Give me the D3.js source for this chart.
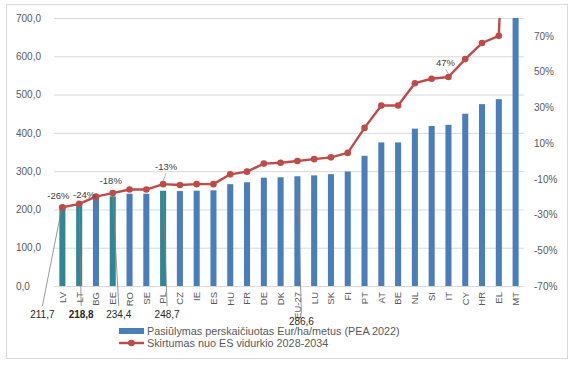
<!DOCTYPE html>
<html>
<head>
<meta charset="utf-8">
<script src="https://cdn.jsdelivr.net/npm/d3@7"></script>
<style>
  html, body { margin: 0; padding: 0; background: #fff; }
  svg { display: block; }
  text { font-family: "Liberation Sans", Arial, sans-serif; }
</style>
</head>
<body>
<svg id="chart" width="574" height="365"></svg>
<script>
// ---- Data ----
const categories = ["LV","LT","BG","EE","RO","SE","PL","CZ","IE","ES","HU","FR","DE","DK","EU-27","LU","SK","FI","PT","AT","BE","NL","SI","IT","CY","HR","EL","MT"];
const paymentValues = [211.7,218.8,230,234.4,241,241,248.7,248,249,250,266,271,283,284,286.6,289,292,299,340,375,375,411,418,421,450,475,488,1150];
const diffPercent = [-26,-24,-20,-18,-16,-16,-13,-13.5,-13,-13,-7.5,-6,-1.5,-1,0,1,2,4.5,18.5,31,31,43.5,46,47,57,66,70,300];
const highlighted = ["LV","LT","EE","PL"];
const leftTicks = [0,100,200,300,400,500,600,700];
const rightTicks = [-70,-50,-30,-10,10,30,50,70];
const seriesNames = ["Pasiūlymas perskaičiuotas Eur/ha/metus (PEA 2022)", "Skirtumas nuo ES vidurkio 2028-2034"];
// data labels
const pctLabels = [
  {cat:"LV", text:"-26%", dx:-4, dy:-12},
  {cat:"LT", text:"-24%", dx:5, dy:-9},
  {cat:"EE", text:"-18%", dx:-2, dy:-12},
  {cat:"PL", text:"-13%", dx:3, dy:-17, leader:true},
  {cat:"IT", text:"47%", dx:-3, dy:-14, leader:true}
];
const barLabels = [
  {cat:"LV", text:"211,7", dx:-20, below:28, bold:false},
  {cat:"LT", text:"218,8", dx:2, below:28, bold:true},
  {cat:"EE", text:"234,4", dx:6, below:28, bold:false},
  {cat:"PL", text:"248,7", dx:4, below:28, bold:false},
  {cat:"EU-27", text:"286,6", dx:4, below:35.5, bold:false}
];

// ---- Layout ----
const svg = d3.select("#chart");
const plot = {left:54, right:524, top:18, bottom:286};
const blue = "#4A7EBB", teal = "#2F8795", red = "#BE4B48";
const grid = "#D9D9D9", txt = "#595959";

// chart border
svg.append("rect").attr("x",6.5).attr("y",4.5).attr("width",561).attr("height",354)
  .attr("fill","#fff").attr("stroke","#D9D9D9").attr("stroke-width",1);

const x = d3.scaleBand().domain(categories).range([plot.left, plot.right])
  .paddingInner(0.64).paddingOuter(0.32);
const yL = d3.scaleLinear().domain([0,700]).range([plot.bottom, plot.top]);
const yR = d3.scaleLinear().domain([-70,80]).range([plot.bottom, plot.top]);
const cx = c => x(c) + x.bandwidth()/2;

svg.append("clipPath").attr("id","clip").append("rect")
  .attr("x", plot.left - 10).attr("y", plot.top).attr("width", plot.right - plot.left + 20).attr("height", plot.bottom - plot.top);

// gridlines (left axis)
const gAxisL = svg.append("g").attr("transform",`translate(${plot.left},0)`)
  .call(d3.axisLeft(yL).tickValues(leftTicks).tickSize(-(plot.right-plot.left)).tickPadding(0)
    .tickFormat(d => d3.format(".1f")(d).replace(".", ",")));
gAxisL.select(".domain").remove();
gAxisL.selectAll(".tick line").attr("stroke", grid).attr("stroke-width",1);
gAxisL.selectAll(".tick text").attr("x", 16 - plot.left).attr("text-anchor","start")
  .attr("fill", txt).style("font-size","10px");

// right axis labels
const gAxisR = svg.append("g").attr("transform",`translate(${plot.right},0)`)
  .call(d3.axisRight(yR).tickValues(rightTicks).tickSize(0).tickFormat(d => d + "%"));
gAxisR.select(".domain").remove();
gAxisR.selectAll(".tick text").attr("x", 10).attr("text-anchor","start")
  .attr("fill", txt).style("font-size","10px");

// bars
const data = categories.map((c,i) => ({cat:c, v:paymentValues[i], p:diffPercent[i]}));
svg.append("g").attr("clip-path","url(#clip)").selectAll("rect").data(data).join("rect")
  .attr("x", d => x(d.cat)).attr("width", x.bandwidth())
  .attr("y", d => yL(d.v)).attr("height", d => yL(0) - yL(d.v))
  .attr("fill", d => highlighted.includes(d.cat) ? teal : blue);

// x axis
const gX = svg.append("g").attr("transform",`translate(0,${plot.bottom})`)
  .call(d3.axisBottom(x).tickSize(0).tickPadding(0));
gX.select(".domain").attr("stroke", grid);
gX.selectAll(".tick text")
  .attr("transform","rotate(-90)").attr("x",-6).attr("y",0).attr("dy","0.35em")
  .attr("text-anchor","end").attr("fill", txt).style("font-size","9.5px");

// bar label leader lines + labels
const gBL = svg.append("g");
barLabels.forEach(b => {
  const d = data.find(e => e.cat === b.cat);
  const lx = cx(b.cat) + b.dx, ly = plot.bottom + b.below;
  gBL.append("line").attr("x1", lx).attr("y1", ly - 8).attr("x2", cx(b.cat)).attr("y2", yL(d.v))
    .attr("stroke","#7F7F7F").attr("stroke-width",0.8);
  gBL.append("text").attr("x", lx).attr("y", ly).attr("dy","0.35em").attr("text-anchor","middle")
    .attr("fill","#262626").style("font-size","10px").style("font-weight", b.bold ? "bold" : "normal")
    .text(b.text);
});

// line
const line = d3.line().x(d => cx(d.cat)).y(d => yR(d.p));
const gLine = svg.append("g").attr("clip-path","url(#clip)");
gLine.append("path").datum(data).attr("d", line).attr("fill","none")
  .attr("stroke", red).attr("stroke-width",2.4).attr("stroke-linejoin","round");
gLine.selectAll("circle").data(data).join("circle")
  .attr("cx", d => cx(d.cat)).attr("cy", d => yR(d.p)).attr("r",3.3).attr("fill", red);

// pct labels
pctLabels.forEach(l => {
  const d = data.find(e => e.cat === l.cat);
  const px = cx(l.cat), py = yR(d.p);
  if (l.leader) {
    svg.append("line").attr("x1", px + l.dx).attr("y1", py + l.dy + 6).attr("x2", px).attr("y2", py - 3)
      .attr("stroke","#A6A6A6").attr("stroke-width",0.8);
  }
  svg.append("text").attr("x", px + l.dx).attr("y", py + l.dy).attr("dy","0.35em")
    .attr("text-anchor","middle").attr("fill","#404040").style("font-size","9.5px").text(l.text);
});

// legend
const lg = svg.append("g");
lg.append("rect").attr("x",119).attr("y",328).attr("width",25).attr("height",6).attr("fill", blue);
lg.append("text").attr("x",147).attr("y",331.5).attr("dy","0.35em").attr("fill", txt)
  .style("font-size","10.8px").text(seriesNames[0]);
lg.append("line").attr("x1",119).attr("x2",144).attr("y1",343).attr("y2",343)
  .attr("stroke", red).attr("stroke-width",2.4);
lg.append("circle").attr("cx",131.5).attr("cy",343).attr("r",3.3).attr("fill", red);
lg.append("text").attr("x",147).attr("y",343.5).attr("dy","0.35em").attr("fill", txt)
  .style("font-size","10.8px").text(seriesNames[1]);
</script>
</body>
</html>
